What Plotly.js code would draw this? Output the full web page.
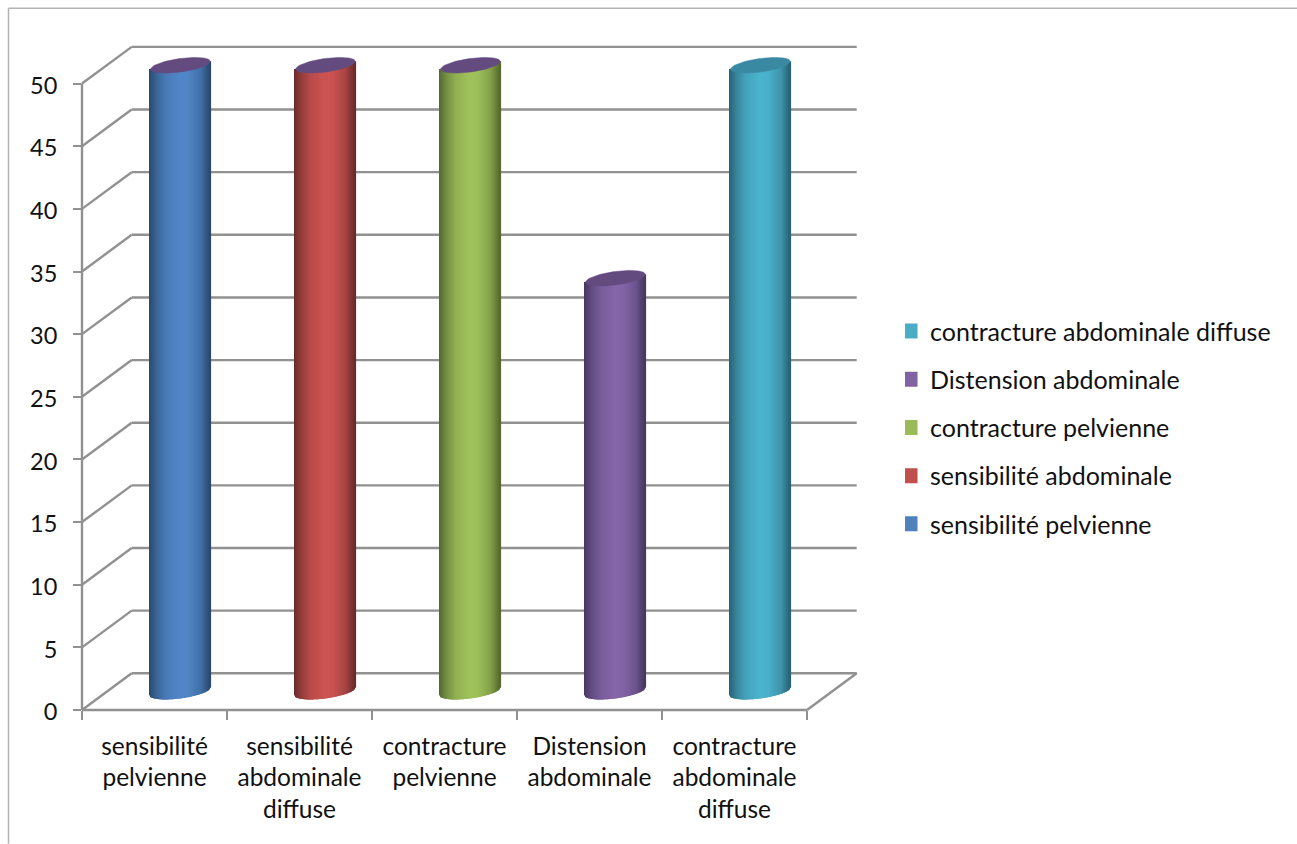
<!DOCTYPE html>
<html>
<head>
<meta charset="utf-8">
<title>Signes physiques</title>
<script src="https://cdn.plot.ly/plotly-3.0.1.min.js"></script>
<style>html,body{margin:0;padding:0;background:#fff;overflow:hidden}</style>
</head>
<body>
<div id="chart" style="width:1297px;height:844px"></div>
<script>
// Chart data
const categoryLabels = ["sensibilité<br>pelvienne", "sensibilité<br>abdominale<br>diffuse", "contracture<br>pelvienne", "Distension<br>abdominale", "contracture<br>abdominale<br>diffuse"];
const values = [50, 50, 50, 33, 50];
const seriesNames = ["sensibilité pelvienne", "sensibilité abdominale", "contracture pelvienne", "Distension abdominale", "contracture abdominale diffuse"];
const baseColors = ["#5086c8", "#cc5352", "#a0c25a", "#8465a9", "#4bb3ce"];
const edgeColors = ["#2a4a72", "#6c2b2b", "#566a30", "#483862", "#286476"];
const capColors = ["#634b80", "#634b80", "#634b80", "#634b80", "#3a89a3"];
const legendColors = ["#4f81bd", "#c0504d", "#9bbb59", "#8064a2", "#4bacc6"];
const valueTicks = [0, 5, 10, 15, 20, 25, 30, 35, 40, 45, 50];

// Oblique projection of the chart box, in axis units
const pxPerCategory = 145;
const depthX = 49.7 / pxPerCategory;
const depthY = 2.93;
const xMax = 776 / pxPerCategory;
const yMax = 53;
const radiusX = 29.8 / pxPerCategory;
const cylinderShift = 1.1 / pxPerCategory;
const capHalfHeight = 0.54;
const capTilt = 0.31;
const stripCount = 61;
const wallColor = "#919191";
const textColor = "#111111";
const fontFamily = "Lato, Carlito, Calibri, sans-serif";

// Horizontal shading across a cylinder: 0 is the edge colour, 1 the base colour
const shadeStops = [[-1, 0], [-0.75, 0.45], [-0.45, 0.8], [0, 1], [0.3, 0.95], [0.7, 0.62], [1, 0]];
function shade(u) {
  for (let i = 1; i < shadeStops.length; i++) {
    const [a, fa] = shadeStops[i - 1], [b, fb] = shadeStops[i];
    if (u <= b) return fa + (fb - fa) * (u - a) / (b - a);
  }
  return 0;
}
function rgb(hex) {
  return [1, 3, 5].map(i => parseInt(hex.substr(i, 2), 16));
}
function mix(dark, light, t) {
  const d = rgb(dark), l = rgb(light);
  return "rgb(" + d.map((c, i) => Math.round(c + (l[i] - c) * t)).join(",") + ")";
}

// One cylinder: a run of narrow bars with elliptical ends, plus a filled cap
function cylinderTraces(index) {
  const cx = index + 0.5 + depthX / 2 + cylinderShift;
  const cv = depthY / 2;
  const xs = [], bases = [], heights = [], colors = [];
  for (let k = 0; k < stripCount; k++) {
    const u = -1 + 2 * k / (stripCount - 1);
    const lower = cv + capTilt * u - capHalfHeight * Math.sqrt(1 - u * u);
    xs.push(cx + u * radiusX);
    bases.push(lower);
    heights.push(values[index] + cv + capTilt * u - lower);
    colors.push(mix(edgeColors[index], baseColors[index], shade(u)));
  }
  const body = {
    type: "bar", x: xs, y: heights, base: bases, width: 1.7 / pxPerCategory,
    marker: {color: colors, line: {width: 0}},
    showlegend: false, hoverinfo: "skip"
  };
  const capX = [], capY = [];
  for (let d = 0; d <= 360; d += 5) {
    const t = d * Math.PI / 180;
    capX.push(cx + radiusX * Math.cos(t));
    capY.push(values[index] + cv + capTilt * Math.cos(t) + capHalfHeight * Math.sin(t));
  }
  const cap = {
    type: "scatter", mode: "lines", x: capX, y: capY, fill: "toself",
    fillcolor: capColors[index], line: {color: capColors[index], width: 0.5},
    showlegend: false, hoverinfo: "skip", cliponaxis: false
  };
  return [body, cap];
}

// Legend entries, listed last series first
const legendTraces = seriesNames.map((name, i) => ({
  type: "scatter", mode: "markers", x: [null], y: [null], name: name,
  legendgroup: name,
  marker: {symbol: "square", size: 15, color: legendColors[i], line: {width: 0}}
}));

// Walls and floor, placed in plot fractions so that edge lines are not clipped
const fx = x => x / xMax;
const fy = y => y / yMax;
function wallLine(x0, y0, x1, y1) {
  return {
    type: "line", layer: "below", xref: "paper", yref: "paper",
    x0: fx(x0), y0: fy(y0), x1: fx(x1), y1: fy(y1),
    line: {color: wallColor, width: 2.4}
  };
}
const categoryCount = values.length;
const wallShapes = [];
valueTicks.forEach(v => {
  wallShapes.push(wallLine(0, v, depthX, v + depthY));
  wallShapes.push(wallLine(depthX, v + depthY, categoryCount + depthX, v + depthY));
});
wallShapes.push(wallLine(0, 0, 0, valueTicks[valueTicks.length - 1]));
wallShapes.push(wallLine(0, 0, categoryCount, 0));
wallShapes.push(wallLine(categoryCount, 0, categoryCount + depthX, depthY));

// Thin frame around the chart area
const plotBottom = 710.3, plotHeight = 664.1;
const frameLeft = (8.5 - 82) / 776, frameRight = (1297 - 82) / 776;
const frameTop = (plotBottom - 8.5) / plotHeight, frameBottom = (plotBottom - 844) / plotHeight;
const frameStyle = {color: "#b3b3b3", width: 1.5};
const frameShapes = [
  {type: "line", layer: "below", xref: "paper", yref: "paper", x0: frameLeft, x1: frameRight, y0: frameTop, y1: frameTop, line: frameStyle},
  {type: "line", layer: "below", xref: "paper", yref: "paper", x0: frameLeft, x1: frameLeft, y0: frameTop, y1: frameBottom, line: frameStyle}
];

const traces = [];
values.forEach((_, i) => traces.push(...cylinderTraces(i)));
traces.push(...legendTraces.slice().reverse());

const layout = {
  width: 1297, height: 844, autosize: false,
  margin: {l: 82, r: 439, t: plotBottom - plotHeight, b: 844 - plotBottom, pad: 0, autoexpand: false},
  paper_bgcolor: "#ffffff", plot_bgcolor: "rgba(0,0,0,0)",
  barmode: "overlay",
  font: {family: fontFamily, size: 24, color: textColor},
  xaxis: {
    range: [0, xMax], showgrid: false, zeroline: false, showline: false,
    tickmode: "array", tickvals: values.map((_, i) => i + 0.5), ticktext: categoryLabels,
    ticks: "", ticklabelstandoff: 19, tickangle: 0,
    tickfont: {family: fontFamily, size: 24.5, color: textColor},
    minor: {tickmode: "array", tickvals: values.map((_, i) => i).concat(categoryCount), ticks: "outside", ticklen: 9, tickwidth: 2.4, tickcolor: wallColor, showgrid: false}
  },
  yaxis: {
    range: [0, yMax], showgrid: false, zeroline: false, showline: false,
    tickmode: "array", tickvals: valueTicks, ticks: "outside", ticklen: 8, tickwidth: 2.4, tickcolor: wallColor,
    ticklabelstandoff: 11, ticklabelshift: 2,
    tickfont: {family: fontFamily, size: 23.5, color: textColor}
  },
  legend: {
    x: 1.0606, xref: "paper", xanchor: "left", y: 0.425, yanchor: "middle",
    traceorder: "grouped", tracegroupgap: 12.7, indentation: -15,
    itemsizing: "trace", itemclick: false, itemdoubleclick: false,
    font: {family: fontFamily, size: 25, color: textColor},
    bgcolor: "rgba(0,0,0,0)"
  },
  showlegend: true,
  shapes: frameShapes.concat(wallShapes),
  hovermode: false
};

Plotly.newPlot("chart", traces, layout, {displayModeBar: false, responsive: false});
</script>
</body>
</html>
